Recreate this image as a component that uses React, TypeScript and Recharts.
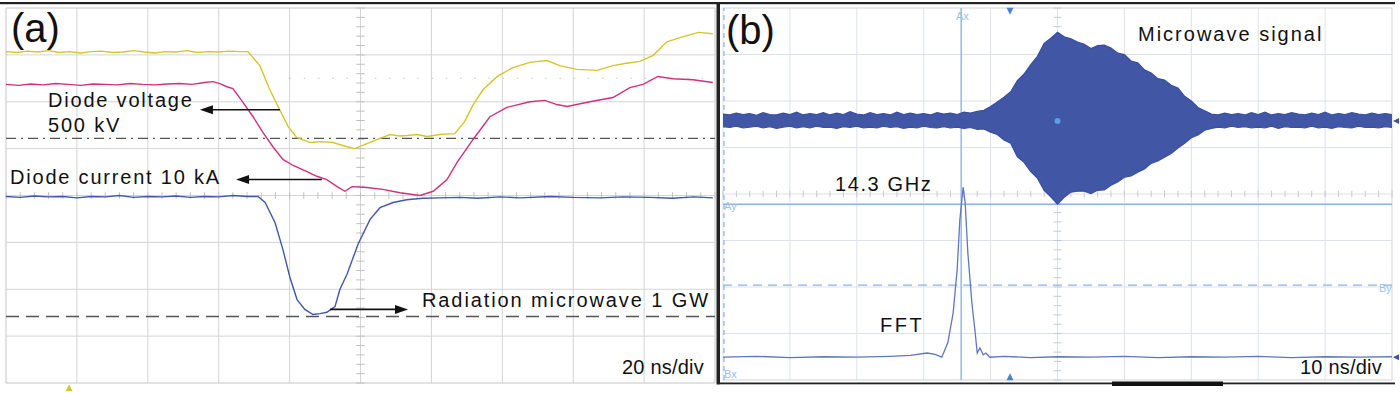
import React from "react";
import {
  ComposedChart,
  Line,
  Area,
  XAxis,
  YAxis,
  ReferenceLine,
  ReferenceDot,
} from "recharts";

// ---------------- Panel (a): 20 ns/div, values in screen divisions ----------------
const voltT = [
  0, 3, 6, 9, 12, 15, 18, 21, 24, 27,
  30, 33, 36, 39, 42, 45, 48, 51, 54, 57,
  60, 63, 66, 68.2, 71.6, 74.4, 77.2, 79.6, 82, 85.8,
  89, 92.2, 96.2, 98.4, 100.6, 104.6, 108.4, 111, 113.2, 116,
  118.8, 122.4, 126.6, 129.4, 131.8, 134.6, 138.6, 143, 147.8, 152.6,
  156.2, 161, 166.8, 171.2, 175, 178.8, 182.6, 186.4, 191, 195.4,
  199.4,
];
const voltV = [
  3.07, 3.05, 3.08, 3.06, 3.09, 3.05, 3.07, 3.04, 3.07, 3.08,
  3.05, 3.06, 3.09, 3.06, 3.04, 3.07, 3.06, 3.09, 3.05, 3.07,
  3.06, 3.08, 3.07, 3.07, 2.77, 2.26, 1.83, 1.47, 1.24, 1.13,
  1.15, 1.13, 1.04, 1.0, 1.07, 1.19, 1.3, 1.27, 1.28, 1.3,
  1.26, 1.3, 1.32, 1.58, 1.94, 2.26, 2.54, 2.73, 2.84, 2.88,
  2.77, 2.69, 2.67, 2.77, 2.82, 2.86, 2.99, 3.28, 3.39, 3.48,
  3.45,
];

const currT = [
  0, 3.5, 7, 10.5, 14, 17.5, 21, 24.5, 28, 31.5,
  35, 38.5, 42, 45.5, 49, 52.5, 56, 58.4, 60.5, 62.3,
  64, 66.9, 69.7, 72.5, 75.3, 78.1, 81, 84.9, 87.7, 90.5,
  93.4, 95.6, 97.6, 101.8, 106.3, 111.1, 116.8, 120.5, 124.4, 127.2,
  131.7, 136.5, 141.3, 147.8, 152, 155.4, 158.3, 164.7, 171.2, 176,
  179.7, 183.9, 188.1, 193.8, 199.4,
];
const currV = [
  2.37, 2.35, 2.38, 2.36, 2.39, 2.37, 2.35, 2.38, 2.37, 2.36,
  2.39, 2.37, 2.36, 2.38, 2.39, 2.37, 2.41, 2.43, 2.38, 2.32,
  2.28, 1.98, 1.68, 1.34, 1.04, 0.77, 0.64, 0.51, 0.41, 0.34,
  0.19, 0.09, 0.19, 0.17, 0.13, 0.06, 0.0, 0.09, 0.34, 0.7,
  1.19, 1.68, 1.88, 2.0, 2.03, 1.94, 1.9, 2.0, 2.09, 2.3,
  2.37, 2.54, 2.49, 2.47, 2.41,
];

const powT = [
  0, 4, 8, 12, 16, 20, 24, 28, 32, 36,
  40, 44, 48, 52, 56, 60, 64, 68, 71.1, 73.1,
  75.9, 78.1, 80.1, 82.1, 84.3, 86.6, 88.6, 90.5, 92.8, 94.2,
  96.2, 99.3, 102.7, 105.5, 109.2, 113, 117.6, 122, 128.1, 133,
  139.4, 145, 153.5, 160, 167.6, 174, 181.7, 188, 194, 199.4,
];
const powV = [
  -0.02, -0.04, -0.01, -0.03, -0.02, -0.05, -0.02, -0.03, 0.0, -0.04,
  -0.02, -0.03, -0.01, -0.04, -0.02, -0.03, 0.0, -0.02, -0.02, -0.15,
  -0.58, -1.15, -1.75, -2.22, -2.43, -2.54, -2.52, -2.49, -2.37, -2.0,
  -1.68, -1.04, -0.51, -0.26, -0.15, -0.09, -0.06, -0.05, -0.04, -0.06,
  -0.03, -0.05, -0.02, -0.04, -0.05, -0.03, -0.04, -0.06, -0.03, -0.05,
];

const voltRefLevel = 1.22; // 500 kV dash-dot level
const powRefLevel = -2.58; // 1 GW dashed level

// ---------------- Panel (b): 10 ns/div ----------------
const mwT = [
  0, 1, 2, 3, 4, 5, 6, 7, 8, 9,
  10, 11, 12, 13, 14, 15, 16, 17, 18, 19,
  20, 21, 22, 23, 24, 25, 26, 27, 28, 29,
  30, 31, 32, 33, 34, 35, 36, 37, 38, 39,
  40, 41, 42, 43, 44, 45, 46, 47, 48, 49,
  50, 51, 52, 53, 54, 55, 56, 57, 58, 59,
  60, 61, 62, 63, 64, 65, 66, 67, 68, 69,
  70, 71, 72, 73, 74, 75, 76, 77, 78, 79,
  80, 81, 82, 83, 84, 85, 86, 87, 88, 89,
  90, 91, 92, 93, 94, 95, 96, 97, 98, 99,
  100,
];
const mwHigh = [
  1.72, 1.7, 1.74, 1.71, 1.73, 1.69, 1.75, 1.71, 1.7, 1.74,
  1.71, 1.76, 1.7, 1.73, 1.71, 1.75, 1.7, 1.74, 1.71, 1.77,
  1.72, 1.7, 1.75, 1.71, 1.73, 1.7, 1.76, 1.71, 1.74, 1.71,
  1.73, 1.7, 1.75, 1.72, 1.74, 1.71, 1.76, 1.74, 1.78, 1.8,
  1.88, 1.98, 2.08, 2.2, 2.44, 2.58, 2.78, 2.96, 3.24, 3.35,
  3.48, 3.38, 3.34, 3.27, 3.22, 3.13, 3.19, 3.2, 3.14, 3.03,
  3.0, 2.86, 2.82, 2.67, 2.6, 2.48, 2.45, 2.34, 2.28, 2.1,
  2.0, 1.86, 1.79, 1.72, 1.7, 1.74, 1.71, 1.73, 1.7, 1.75,
  1.71, 1.76, 1.7, 1.73, 1.71, 1.75, 1.72, 1.7, 1.74, 1.71,
  1.76, 1.7, 1.73, 1.71, 1.75, 1.72, 1.7, 1.74, 1.71, 1.73,
  1.71,
];
const mwLow = [
  1.45, 1.43, 1.46, 1.42, 1.44, 1.46, 1.42, 1.45, 1.41, 1.44,
  1.46, 1.42, 1.45, 1.42, 1.46, 1.43, 1.44, 1.41, 1.45, 1.43,
  1.46, 1.42, 1.44, 1.42, 1.46, 1.43, 1.45, 1.41, 1.44, 1.42,
  1.46, 1.43, 1.42, 1.45, 1.42, 1.44, 1.41, 1.43, 1.39, 1.4,
  1.33, 1.28, 1.16, 1.09, 0.8, 0.68, 0.48, 0.34, 0.08, -0.06,
  -0.22, -0.07, 0.04, 0.06, 0.06, 0.01, 0.08, 0.09, 0.19, 0.26,
  0.36, 0.39, 0.47, 0.54, 0.66, 0.71, 0.79, 0.87, 0.99, 1.09,
  1.21, 1.27, 1.37, 1.41, 1.44, 1.42, 1.46, 1.43, 1.45, 1.42,
  1.44, 1.42, 1.46, 1.41, 1.45, 1.43, 1.44, 1.42, 1.46, 1.42,
  1.44, 1.41, 1.45, 1.43, 1.42, 1.46, 1.43, 1.44, 1.42, 1.45,
  1.43,
];

const fftT = [
  0, 5, 10, 15, 20, 25, 28, 30.5, 31.7, 32.7,
  33.6, 34.4, 35, 35.4, 35.9, 36.2, 36.6, 37.2, 37.7, 38,
  38.4, 38.9, 39.3, 39.9, 42, 46, 50, 55, 60, 65,
  70, 75, 80, 85, 90, 95, 100,
];
const fftV = [
  -3.51, -3.49, -3.52, -3.5, -3.51, -3.49, -3.47, -3.42, -3.45, -3.51,
  -3.2, -2.56, -1.63, -0.56, 0.15, -0.19, -1.27, -2.34, -2.99, -3.42,
  -3.31, -3.46, -3.42, -3.51, -3.49, -3.52, -3.5, -3.51, -3.49, -3.52,
  -3.5, -3.51, -3.49, -3.52, -3.5, -3.51, -3.5,
];

const cursorAx = 35.6;
const cursorAy = -0.22;
const cursorBy = -1.96;
const cursorBx = 0.15;

// axis ticks (divisions)
const divLevels = [-4, -3, -2, -1, 0, 1, 2, 3, 4];
const timeA = [0, 20, 40, 60, 80, 100, 120, 140, 160, 180, 200];
const timeB = [0, 10, 20, 30, 40, 50, 60, 70, 80, 90, 100];
const minorA = Array.from({ length: 51 }, (_, i) => i * 4);
const minorB = Array.from({ length: 51 }, (_, i) => i * 2);
const minorV = Array.from({ length: 41 }, (_, i) => -4 + i * 0.2);

const pairs = (t: number[], v: number[]) => t.map((x, i) => ({ t: x, v: v[i] }));
const voltData = pairs(voltT, voltV);
const currData = pairs(currT, currV);
const powData = pairs(powT, powV);
const fftData = pairs(fftT, fftV);
const mwData = mwT.map((x, i) => ({ t: x, r: [mwLow[i], mwHigh[i]] }));

const FONT = '"Liberation Sans", Arial, Helvetica, sans-serif';

const A_SIZE = { width: 720, height: 393 };
const A_MARGIN = { top: 8, right: 5, bottom: 10, left: 6 };
const B_SIZE = { width: 680, height: 393 };
const B_MARGIN = { top: 8, right: 8, bottom: 13, left: 3 };

const arrowHead = (dir: "left" | "right") => (p: any) => {
  const { cx, cy } = p;
  const L = 13;
  const W = 4.5;
  const pts =
    dir === "left"
      ? `${cx},${cy} ${cx + L},${cy - W} ${cx + L},${cy + W}`
      : `${cx},${cy} ${cx - L},${cy - W} ${cx - L},${cy + W}`;
  return <polygon points={pts} fill="#111" />;
};

const triangle = (dir: "up" | "down" | "left", color: string, s = 4) => (p: any) => {
  const { cx, cy } = p;
  let pts = "";
  if (dir === "up") pts = `${cx},${cy - s} ${cx - s},${cy + s} ${cx + s},${cy + s}`;
  if (dir === "down") pts = `${cx},${cy + s} ${cx - s},${cy - s} ${cx + s},${cy - s}`;
  if (dir === "left") pts = `${cx - s},${cy} ${cx + s},${cy - s} ${cx + s},${cy + s}`;
  return <polygon points={pts} fill={color} />;
};

const layer: React.CSSProperties = { position: "absolute", left: 0, top: 0 };

function PanelAGrid() {
  const grid = "#d4d4d4";
  return (
    <ComposedChart {...A_SIZE} margin={A_MARGIN}>
      <XAxis type="number" dataKey="t" domain={[0, 200]} hide allowDataOverflow />
      <YAxis type="number" domain={[-4, 4]} hide allowDataOverflow />
      {timeA.map((t) => (
        <ReferenceLine key={"gx" + t} x={t} stroke={t === 0 || t === 200 ? "#c4c4c4" : grid} strokeWidth={1} />
      ))}
      {divLevels.map((v) => (
        <ReferenceLine key={"gy" + v} y={v} stroke={v === -4 || v === 4 ? "#c4c4c4" : grid} strokeWidth={1} />
      ))}
      {minorA.map((t) => (
        <ReferenceLine key={"mx" + t} segment={[{ x: t, y: -0.07 }, { x: t, y: 0.07 }]} stroke="#c0c0c0" />
      ))}
      {minorV.map((v) => (
        <ReferenceLine key={"my" + v} segment={[{ x: 98.8, y: v }, { x: 101.2, y: v }]} stroke="#c0c0c0" />
      ))}
      <ReferenceLine segment={[{ x: 80, y: 2.5 }, { x: 200, y: 2.5 }]} stroke="#c8c8c8" strokeDasharray="1.5 12.7" />
      <ReferenceLine y={voltRefLevel} stroke="#555" strokeWidth={1.3} strokeDasharray="10 5 2 5" />
      <ReferenceLine y={powRefLevel} stroke="#555" strokeWidth={1.4} strokeDasharray="13 7" />
    </ComposedChart>
  );
}

function PanelATraces() {
  return (
    <ComposedChart {...A_SIZE} margin={A_MARGIN}>
      <XAxis type="number" dataKey="t" domain={[0, 200]} hide allowDataOverflow />
      <YAxis type="number" domain={[-4, 4]} hide allowDataOverflow />
      <Line data={voltData} dataKey="v" type="linear" stroke="#d6c52a" strokeWidth={1.4} dot={false} isAnimationActive={false} />
      <Line data={currData} dataKey="v" type="linear" stroke="#d1307c" strokeWidth={1.4} dot={false} isAnimationActive={false} />
      <Line data={powData} dataKey="v" type="linear" stroke="#4257ad" strokeWidth={1.4} dot={false} isAnimationActive={false} />
      <ReferenceLine segment={[{ x: 77.3, y: 1.83 }, { x: 58, y: 1.83 }]} stroke="#111" strokeWidth={1.6} />
      <ReferenceDot x={54.7} y={1.83} r={1} shape={arrowHead("left")} />
      <ReferenceLine segment={[{ x: 89.1, y: 0.34 }, { x: 68, y: 0.34 }]} stroke="#111" strokeWidth={1.6} />
      <ReferenceDot x={64.9} y={0.34} r={1} shape={arrowHead("left")} />
      <ReferenceLine segment={[{ x: 91.4, y: -2.43 }, { x: 110, y: -2.43 }]} stroke="#111" strokeWidth={1.6} />
      <ReferenceDot x={113.4} y={-2.43} r={1} shape={arrowHead("right")} />
      <ReferenceDot x={17.8} y={-4.1} r={1} ifOverflow="visible" shape={triangle("up", "#d6c52a", 3.5)} />
    </ComposedChart>
  );
}

function PanelBGrid() {
  const grid = "#dde1e8";
  const cursor = "#8db3e2";
  return (
    <ComposedChart {...B_SIZE} margin={B_MARGIN}>
      <XAxis type="number" dataKey="t" domain={[0, 100]} hide allowDataOverflow />
      <YAxis type="number" domain={[-4, 4]} hide allowDataOverflow />
      {timeB.map((t) => (
        <ReferenceLine key={"gx" + t} x={t} stroke={t === 100 ? "#cfd3da" : grid} strokeWidth={1} />
      ))}
      {divLevels.map((v) => (
        <ReferenceLine key={"gy" + v} y={v} stroke={v === -4 || v === 4 ? "#cfd3da" : grid} strokeWidth={1} />
      ))}
      {minorB.map((t) => (
        <ReferenceLine key={"mx" + t} segment={[{ x: t, y: -0.07 }, { x: t, y: 0.07 }]} stroke="#c6cad2" />
      ))}
      {minorV.map((v) => (
        <ReferenceLine key={"my" + v} segment={[{ x: 49.4, y: v }, { x: 50.6, y: v }]} stroke="#c6cad2" />
      ))}
      <ReferenceLine x={cursorBx} stroke={cursor} strokeWidth={1.2} strokeDasharray="5 4" />
      <ReferenceLine y={cursorBy} stroke={cursor} strokeWidth={1.3} strokeDasharray="9 6" />
      <ReferenceLine y={cursorAy} stroke={cursor} strokeWidth={1.3} />
      <ReferenceLine x={cursorAx} stroke={cursor} strokeWidth={1.4} />
    </ComposedChart>
  );
}

function PanelBTraces() {
  return (
    <ComposedChart {...B_SIZE} data={mwData} margin={B_MARGIN}>
      <XAxis type="number" dataKey="t" domain={[0, 100]} hide allowDataOverflow />
      <YAxis type="number" domain={[-4, 4]} hide allowDataOverflow />
      <Area
        dataKey="r"
        type="linear"
        stroke="#3a4fa2"
        strokeWidth={1.2}
        fill="#4256a6"
        fillOpacity={1}
        dot={false}
        activeDot={false}
        isAnimationActive={false}
      />
      <Line data={fftData} dataKey="v" type="linear" stroke="#5f77bd" strokeWidth={1.3} dot={false} isAnimationActive={false} />
      <ReferenceDot x={50} y={1.57} r={3} fill="#5a9fe0" stroke="none" />
      <ReferenceDot x={42.9} y={3.93} r={1} ifOverflow="visible" shape={triangle("down", "#4a80d0", 3.5)} />
      <ReferenceDot x={42.9} y={-3.93} r={1} ifOverflow="visible" shape={triangle("up", "#4a80d0", 3.5)} />
      <ReferenceDot x={100.6} y={1.57} r={1} ifOverflow="visible" shape={triangle("left", "#3d51a3", 3)} />
      <ReferenceDot x={100.6} y={-3.51} r={1} ifOverflow="visible" shape={triangle("left", "#3d51a3", 3)} />
    </ComposedChart>
  );
}

export default function App() {
  const txt = { fontFamily: FONT, fill: "#111" } as const;
  const lbl = { fontFamily: FONT, fill: "#9cc0e8", fontSize: 11 } as const;
  return (
    <div style={{ position: "absolute", left: 0, top: 0, width: 1400, height: 393, background: "#fff", overflow: "hidden" }}>
      <div style={{ position: "absolute", left: 0, top: 0, width: 720, height: 393 }}>
        <div style={layer}><PanelAGrid /></div>
        <div style={layer}><PanelATraces /></div>
      </div>
      <div style={{ position: "absolute", left: 720, top: 0, width: 680, height: 393 }}>
        <div style={layer}><PanelBGrid /></div>
        <div style={layer}><PanelBTraces /></div>
      </div>
      <svg width={1400} height={393} style={{ position: "absolute", left: 0, top: 0, pointerEvents: "none" }}>
        {/* frames */}
        <rect x={0} y={2} width={1395} height={2.2} fill="#222" />
        <rect x={716.5} y={2} width={3.5} height={382.5} fill="#222" />
        <rect x={720} y={382.5} width={675} height={1.8} fill="#222" />
        <rect x={1112} y={381.5} width={111} height={4.5} fill="#111" />
        {/* panel (a) texts */}
        <text x={11} y={42} fontSize={40} {...txt}>(a)</text>
        <text x={48} y={107} fontSize={20} letterSpacing={1.8} {...txt}>Diode voltage</text>
        <text x={48} y={132} fontSize={20} letterSpacing={1.8} {...txt}>500 kV</text>
        <text x={10} y={184} fontSize={20} letterSpacing={1.8} {...txt}>Diode current 10 kA</text>
        <text x={422} y={307} fontSize={20} letterSpacing={1.9} {...txt}>Radiation microwave 1 GW</text>
        <text x={622} y={374} fontSize={20} letterSpacing={0.2} {...txt}>20 ns/div</text>
        {/* panel (b) texts */}
        <text x={726} y={44} fontSize={40} {...txt}>(b)</text>
        <text x={1138} y={41} fontSize={20} letterSpacing={2} {...txt}>Microwave signal</text>
        <text x={835} y={191} fontSize={20} letterSpacing={1.6} {...txt}>14.3 GHz</text>
        <text x={880} y={332} fontSize={20} letterSpacing={2.5} {...txt}>FFT</text>
        <text x={1300} y={374} fontSize={20} letterSpacing={0.2} {...txt}>10 ns/div</text>
        <text x={956} y={20} {...lbl}>Ax</text>
        <text x={724} y={210} {...lbl}>Ay</text>
        <text x={1379} y={292} {...lbl}>By</text>
        <text x={724} y={378} {...lbl}>Bx</text>
      </svg>
    </div>
  );
}
